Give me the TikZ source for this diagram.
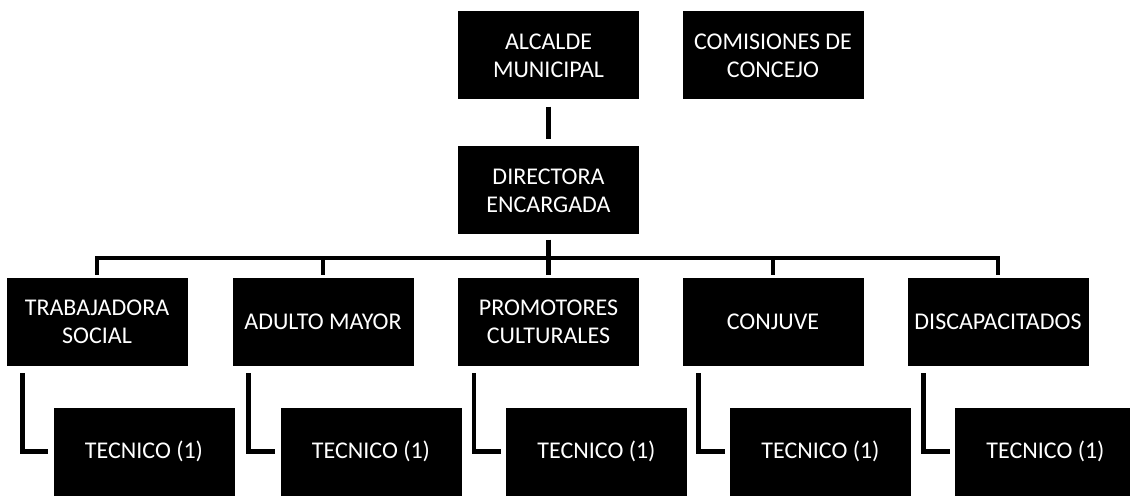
\documentclass[tikz,border=0pt]{standalone}
\usepackage{fontspec}
\setmainfont{Carlito}
\usepackage{tikz}

\begin{document}
\begin{tikzpicture}[x=1pt, y=-1pt,
        orgbox/.style={fill=black, text=white, align=center, inner sep=0pt,
            minimum width=181pt, minimum height=88pt,
            font=\fontsize{24}{28}\selectfont},
        conn/.style={line width=4.5pt, line join=miter}]
        \useasboundingbox (0, 0) rectangle (1130, 497);
        % top
        \node (alcalde) at (548.5, 55.5) [orgbox] {ALCALDE\\MUNICIPAL};
        \node (comision) at (773, 55.5) [orgbox] {COMISIONES DE\\CONCEJO};
        \node (directora) at (548.5, 190.5) [orgbox] {DIRECTORA\\ENCARGADA};
        % areas
        \node (trabajo) at (97, 322) [orgbox] {TRABAJADORA\\SOCIAL};
        \node (adulto) at (323, 322) [orgbox] {ADULTO MAYOR};
        \node (promotor) at (548.5, 322) [orgbox] {PROMOTORES\\CULTURALES};
        \node (conjuve) at (773, 322) [orgbox] {CONJUVE};
        \node (discap) at (998, 322) [orgbox] {DISCAPACITADOS};
        % tecnicos
        \node (tecA) at (144, 451.5) [orgbox] {TECNICO (1)};
        \node (tecB) at (371, 451.5) [orgbox] {TECNICO (1)};
        \node (tecC) at (596.5, 451.5) [orgbox] {TECNICO (1)};
        \node (tecD) at (820.5, 451.5) [orgbox] {TECNICO (1)};
        \node (tecE) at (1045.5, 451.5) [orgbox] {TECNICO (1)};
        \coordinate (bar) at (548.5, 258);
        \draw [conn] ([yshift=-7pt]alcalde.south) -- ([yshift=7pt]directora.north);
        \draw [conn] ([yshift=-5pt]directora.south) -- (bar);
        \draw [conn] ([yshift=3pt]trabajo.north) -- (trabajo.north |- bar)
            -- (discap.north |- bar) -- ([yshift=3pt]discap.north);
        \foreach \area in {adulto, promotor, conjuve}
            \draw [conn] (\area.north |- bar) -- ([yshift=3pt]\area.north);
        \foreach \area/\tec in {trabajo/tecA, adulto/tecB, promotor/tecC,
                conjuve/tecD, discap/tecE}
            \draw [conn] ([xshift=16pt, yshift=-7pt]\area.south west)
                |- ([xshift=-5pt]\tec.west);
    \end{tikzpicture}
\end{document}
